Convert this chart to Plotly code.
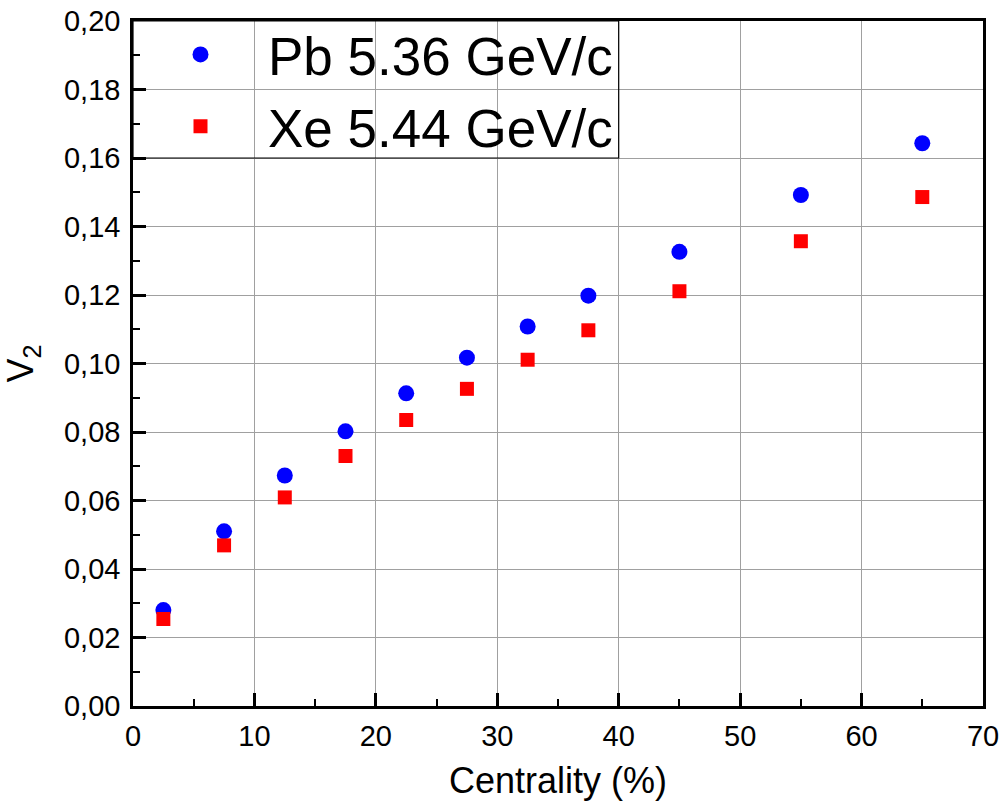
import plotly.graph_objects as go

centrality = [2.5, 7.5, 12.5, 17.5, 22.5, 27.5, 32.5, 37.5, 45, 55, 65]
v2_pb = [0.0280, 0.0510, 0.0673, 0.0802, 0.0913, 0.1017, 0.1108, 0.1198, 0.1326, 0.1492, 0.1643]
v2_xe = [0.0254, 0.0469, 0.0609, 0.0730, 0.0835, 0.0926, 0.1011, 0.1097, 0.1211, 0.1357, 0.1486]

names = ["Pb 5.36 GeV/c", "Xe 5.44 GeV/c"]
FONT = "Liberation Sans, Arial, sans-serif"

fig = go.Figure()
fig.add_trace(go.Scatter(x=centrality, y=v2_pb, mode="markers", name=names[0],
                         marker=dict(symbol="circle", size=16, color="#0000FF", line=dict(width=0))))
fig.add_trace(go.Scatter(x=centrality, y=v2_xe, mode="markers", name=names[1],
                         marker=dict(symbol="square", size=14, color="#FF0000", line=dict(width=0))))

axis_common = dict(
    showline=True, linecolor="black", linewidth=2.5, mirror=True,
    ticks="inside", ticklen=13, tickwidth=2.5, tickcolor="black",
    showgrid=True, gridcolor="#a0a0a0", gridwidth=1,
    zeroline=False, automargin=False,
    tickfont=dict(family=FONT, size=29, color="black"),
)

fig.update_xaxes(range=[0, 70], dtick=10, tick0=0, ticklabelstandoff=2,
                 title=dict(text="Centrality (%)", font=dict(family=FONT, size=36, color="black"), standoff=18),
                 minor=dict(ticks="inside", ticklen=7, tickwidth=2, tickcolor="black", dtick=5, showgrid=False),
                 **axis_common)
fig.update_yaxes(range=[0, 0.20], dtick=0.02, tick0=0, tickformat=".2f", ticklabelstandoff=4,
                 title=dict(text="V<sub>2</sub>", font=dict(family=FONT, size=36, color="black"), standoff=28),
                 minor=dict(ticks="inside", ticklen=7, tickwidth=2, tickcolor="black", dtick=0.01, showgrid=False),
                 **axis_common)

# legend frame (matches the reference box: from the top-left corner to the 40 / 0.16 gridlines)
fig.add_shape(type="rect", xref="x", yref="y", x0=0, x1=40, y0=0.16, y1=0.20,
              line=dict(color="black", width=1.2), fillcolor="rgba(0,0,0,0)", layer="above")

fig.update_layout(
    width=1002, height=806,
    margin=dict(l=133, r=19, t=21, b=100),
    plot_bgcolor="white", paper_bgcolor="white",
    separators=",.",
    showlegend=True,
    legend=dict(x=0, y=1.011, xanchor="left", yanchor="top",
                bgcolor="rgba(0,0,0,0)", borderwidth=0,
                font=dict(family=FONT, size=53, color="black"),
                itemwidth=125, tracegroupgap=0),
)

fig.write_html("out.html", config={"displayModeBar": False},
               post_script="document.body.style.margin='0';document.body.style.overflow='hidden';")
